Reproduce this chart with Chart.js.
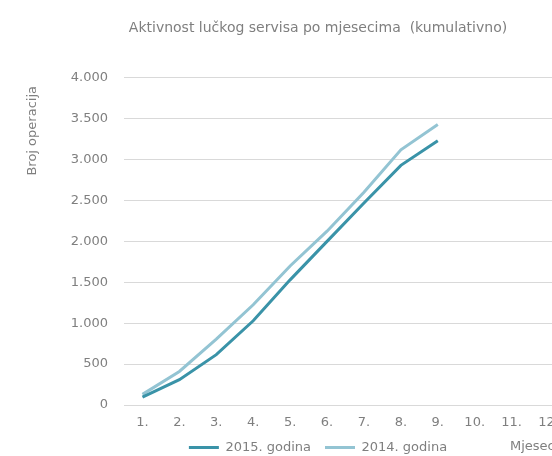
<!DOCTYPE html>
<html>
<head>
<meta charset="utf-8">
<script src="https://cdn.jsdelivr.net/npm/chart.js@4/dist/chart.umd.min.js"></script>
<style>
  html, body { margin: 0; padding: 0; background: #fff; overflow: hidden; }
  #wrap { width: 636px; height: 456px; position: absolute; left: 0; top: 0; }
</style>
</head>
<body>
<div id="wrap"><canvas id="myChart" width="636" height="456"></canvas></div>
<script>
// Months on the x axis
const months = ['1.', '2.', '3.', '4.', '5.', '6.', '7.', '8.', '9.', '10.', '11.', '12.'];
// Cumulative number of operations per month
const ops2015 = [95, 310, 615, 1030, 1530, 2000, 2470, 2930, 3230];
const ops2014 = [130, 410, 805, 1225, 1700, 2125, 2600, 3120, 3430];

const grey = '#7f7f7f';
const fontFamily = '"DejaVu Sans", sans-serif';

// Excel style axis titles, drawn beside the plot
const axisTitles = {
    id: 'axisTitles',
    afterDraw(chart) {
        const ctx = chart.ctx;
        const area = chart.chartArea;
        ctx.save();
        ctx.fillStyle = grey;
        ctx.font = '13px ' + fontFamily;
        ctx.textBaseline = 'middle';
        ctx.textAlign = 'center';
        ctx.translate(33, area.top + 53);
        ctx.rotate(-Math.PI / 2);
        ctx.fillText('Broj operacija', 0, 0);
        ctx.restore();

        ctx.save();
        ctx.fillStyle = grey;
        ctx.font = '13px ' + fontFamily;
        ctx.textBaseline = 'middle';
        ctx.textAlign = 'left';
        ctx.fillText('Mjesec', area.right - 57, 447);
        ctx.restore();
    }
};

const ctx = document.getElementById('myChart');

new Chart(ctx, {
    type: 'line',
    data: {
        labels: months,
        datasets: [
            {
                label: '2015. godina',
                data: ops2015,
                borderColor: '#3a93a8',
                backgroundColor: '#3a93a8',
                borderWidth: 3,
                pointRadius: 0,
                tension: 0
            },
            {
                label: '2014. godina',
                data: ops2014,
                borderColor: '#93c4d3',
                backgroundColor: '#93c4d3',
                borderWidth: 3,
                pointRadius: 0,
                tension: 0
            }
        ]
    },
    options: {
        responsive: false,
        animation: false,
        layout: { padding: { left: 0, right: 0, top: 0, bottom: -8 } },
        plugins: {
            title: {
                display: true,
                text: 'Aktivnost lučkog servisa po mjesecima  (kumulativno)',
                color: grey,
                font: { family: fontFamily, size: 14, weight: 'normal' },
                padding: { top: 20, bottom: 41 }
            },
            legend: {
                position: 'bottom',
                labels: {
                    color: grey,
                    font: { family: fontFamily, size: 13 },
                    usePointStyle: true,
                    pointStyle: 'line',
                    pointStyleWidth: 30,
                    padding: 14
                }
            },
            tooltip: { enabled: false }
        },
        scales: {
            x: {
                offset: true,
                grid: { display: false, drawTicks: false },
                border: { display: false },
                ticks: {
                    color: grey,
                    font: { family: fontFamily, size: 13 },
                    padding: 10,
                    maxRotation: 0,
                    autoSkip: false
                },
                afterFit(scale) { scale.height = 22; }
            },
            y: {
                min: 0,
                max: 4000,
                grid: { color: '#d9d9d9', drawTicks: false },
                border: { display: false },
                ticks: {
                    stepSize: 500,
                    color: grey,
                    font: { family: fontFamily, size: 13 },
                    padding: 16,
                    callback: (v) => v.toLocaleString('de-DE')
                },
                afterFit(scale) { scale.width = 124; }
            },
            // empty right axis, only reserves the space right of the plot
            yRight: {
                position: 'right',
                display: true,
                grid: { display: false, drawTicks: false },
                border: { display: false },
                ticks: { display: false },
                afterFit(scale) { scale.width = 69; }
            }
        }
    },
    plugins: [axisTitles]
});
</script>
</body>
</html>
